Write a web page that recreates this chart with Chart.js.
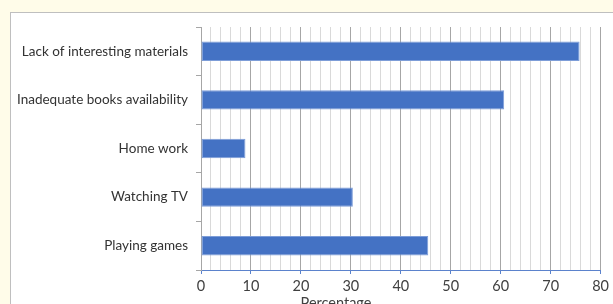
<!DOCTYPE html>
<html>
<head>
<meta charset="utf-8">
<script src="https://cdn.jsdelivr.net/npm/chart.js@4.4.0/dist/chart.umd.min.js"></script>
<style>
  html, body { margin:0; padding:0; width:613px; height:304px; overflow:hidden; background:#FFFCE9; }
  #box { position:absolute; left:10px; top:12px; width:700px; height:400px; background:#fff; border:1px solid #BFBFBF; box-sizing:border-box; }
  #wrap { position:absolute; left:0; top:0; width:613px; height:304px; }
</style>
</head>
<body>
<div id="box"></div>
<div id="wrap"><canvas id="c" width="613" height="304"></canvas></div>
<script>
const categories = ["Lack of interesting materials", "Inadequate books availability", "Home work", "Watching TV", "Playing games"];
const values = [75.8, 60.7, 8.9, 30.4, 45.5];
const xTickLabels = ["0", "10", "20", "30", "40", "50", "60", "70", "80"];
const xTitle = "Percentage";

const FONT = "Lato, 'Open Sans', sans-serif";

const titlePlugin = {
  id: 'xtitle',
  afterDraw(chart) {
    const ctx = chart.ctx;
    ctx.save();
    ctx.fillStyle = '#404040';
    ctx.font = "14.5px " + FONT;
    ctx.textAlign = 'center';
    ctx.textBaseline = 'top';
    ctx.fillText(xTitle, 336, 296);
    ctx.restore();
  }
};

new Chart(document.getElementById('c'), {
  type: 'bar',
  data: {
    labels: categories,
    datasets: [{
      data: values,
      backgroundColor: '#4472C4',
      borderColor: '#7D9DD8',
      borderWidth: 1,
      borderSkipped: false,
      categoryPercentage: 1.0,
      barPercentage: 0.4
    }]
  },
  options: {
    indexAxis: 'y',
    responsive: false,
    animation: false,
    devicePixelRatio: 1,
    layout: { padding: { left: 0, top: 27, right: 12, bottom: 0 } },
    plugins: { legend: { display: false }, tooltip: { enabled: false } },
    scales: {
      x: {
        type: 'linear',
        min: 0, max: 80,
        afterFit(scale) { scale.height = 34; },
        afterBuildTicks(scale) {
          const t = [];
          for (let v = 0; v <= 80; v += 2) t.push({ value: v });
          scale.ticks = t;
        },
        ticks: {
          autoSkip: false,
          maxRotation: 0,
          padding: 4,
          color: '#404040',
          font: { family: FONT, size: 14.5 },
          callback(v) { return v % 10 === 0 ? xTickLabels[v / 10] : ''; }
        },
        grid: {
          color(ctx) { return (ctx.tick && ctx.tick.value % 10 === 0) ? '#A6A6A6' : '#D9D9D9'; },
          lineWidth: 1,
          drawTicks: true,
          tickLength: 4,
          tickColor(ctx) { return (ctx.tick && ctx.tick.value % 10 === 0) ? '#5B82CC' : 'rgba(0,0,0,0)'; }
        },
        border: { display: true, color: '#5B82CC', width: 1 }
      },
      y: {
        type: 'category',
        offset: true,
        afterFit(scale) { scale.width = 201; },
        ticks: {
          color: '#333333',
          padding: 8,
          font: { family: FONT, size: 13.5 }
        },
        grid: {
          offset: true,
          drawOnChartArea: false,
          drawTicks: true,
          tickLength: 5,
          color: '#A6A6A6'
        },
        border: { display: true, color: '#A6A6A6', width: 1 }
      }
    }
  },
  plugins: [titlePlugin]
});
</script>
</body>
</html>
